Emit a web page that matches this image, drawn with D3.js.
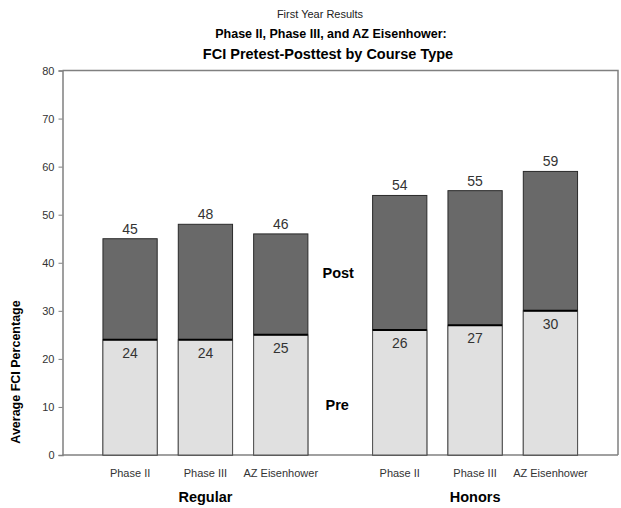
<!DOCTYPE html>
<html>
<head>
<meta charset="utf-8">
<script src="https://cdn.jsdelivr.net/npm/d3@7"></script>
<style>
  html, body { margin: 0; padding: 0; background: #fff; }
  svg { display: block; font-family: "Liberation Sans", Arial, sans-serif; }
</style>
</head>
<body>
<svg id="chart" width="621" height="508"></svg>
<script>
// Course groups and the three program types within each group
const groups = ["Regular", "Honors"];
const courseTypes = ["Phase II", "Phase III", "AZ Eisenhower"];

// Average FCI percentages per course type
const preRegular = [24, 24, 25];
const postRegular = [45, 48, 46];
const preHonors = [26, 27, 30];
const postHonors = [54, 55, 59];

const yTicks = [0, 10, 20, 30, 40, 50, 60, 70, 80];

const rows = [];
groups.forEach((g, gi) => {
  const pre = gi === 0 ? preRegular : preHonors;
  const post = gi === 0 ? postRegular : postHonors;
  courseTypes.forEach((t, i) => rows.push({ group: g, type: t, pre: pre[i], post: post[i] }));
});

const svg = d3.select("#chart");
const plot = { left: 62.5, right: 618, top: 70.5, bottom: 455 };

const y = d3.scaleLinear().domain([0, 80]).range([plot.bottom, plot.top]);
const xGroup = d3.scaleBand().domain(groups).range([plot.left, plot.right])
  .paddingInner(0.24).paddingOuter(0.15);
const xType = d3.scaleBand().domain(courseTypes).range([0, xGroup.bandwidth()])
  .paddingInner(0.28).paddingOuter(0);
const barX = d => xGroup(d.group) + xType(d.type);

// Titles
svg.append("text").attr("x", 320).attr("y", 18).attr("text-anchor", "middle")
  .attr("font-size", 11).attr("fill", "#222").text("First Year Results");
svg.append("text").attr("x", 331).attr("y", 38).attr("text-anchor", "middle")
  .attr("font-size", 12.5).attr("font-weight", "bold").attr("fill", "#000")
  .text("Phase II, Phase III, and AZ Eisenhower:");
svg.append("text").attr("x", 328).attr("y", 59).attr("text-anchor", "middle")
  .attr("font-size", 14.5).attr("font-weight", "bold").attr("fill", "#000")
  .text("FCI Pretest-Posttest by Course Type");

// Plot frame (top and right)
svg.append("path")
  .attr("d", `M${plot.left},${plot.top}H${plot.right}V${plot.bottom}`)
  .attr("fill", "none").attr("stroke", "#808080").attr("stroke-width", 1.5);

// Y axis
const yAxis = svg.append("g").attr("transform", `translate(${plot.left},0)`)
  .call(d3.axisLeft(y).tickValues(yTicks).tickSize(4).tickPadding(4).tickFormat(d3.format("d")));
yAxis.select(".domain").attr("stroke", "#808080").attr("stroke-width", 1.5);
yAxis.selectAll(".tick line").attr("stroke", "#808080");
yAxis.selectAll(".tick text").attr("font-size", 11).attr("fill", "#333")
  .attr("font-family", "Liberation Sans, Arial, sans-serif");

// Bottom baseline
svg.append("line").attr("x1", plot.left).attr("x2", plot.right)
  .attr("y1", plot.bottom).attr("y2", plot.bottom)
  .attr("stroke", "#808080").attr("stroke-width", 1.5);

// Y axis title
svg.append("text")
  .attr("transform", `translate(20,372) rotate(-90)`)
  .attr("text-anchor", "middle").attr("font-size", 12.5).attr("font-weight", "bold")
  .attr("fill", "#000").text("Average FCI Percentage");

const bars = svg.append("g").selectAll("g").data(rows).join("g");

// Posttest bars (full height)
bars.append("rect")
  .attr("x", d => barX(d)).attr("width", xType.bandwidth())
  .attr("y", d => y(d.post)).attr("height", d => y(0) - y(d.post))
  .attr("fill", "#696969").attr("stroke", "#2a2a2a").attr("stroke-width", 1);

// Pretest bars overlaid from zero
bars.append("rect")
  .attr("x", d => barX(d)).attr("width", xType.bandwidth())
  .attr("y", d => y(d.pre)).attr("height", d => y(0) - y(d.pre))
  .attr("fill", "#e0e0e0").attr("stroke", "#555").attr("stroke-width", 1);

// Pretest boundary line
bars.append("line")
  .attr("x1", d => barX(d)).attr("x2", d => barX(d) + xType.bandwidth())
  .attr("y1", d => y(d.pre)).attr("y2", d => y(d.pre))
  .attr("stroke", "#000").attr("stroke-width", 2);

// Value labels
bars.append("text")
  .attr("x", d => barX(d) + xType.bandwidth() / 2).attr("y", d => y(d.post) - 5)
  .attr("text-anchor", "middle").attr("font-size", 14).attr("fill", "#333")
  .text(d => d.post);
bars.append("text")
  .attr("x", d => barX(d) + xType.bandwidth() / 2).attr("y", d => y(d.pre) + 18)
  .attr("text-anchor", "middle").attr("font-size", 14).attr("fill", "#333")
  .text(d => d.pre);

// Category labels
bars.append("text")
  .attr("x", d => barX(d) + xType.bandwidth() / 2).attr("y", 477)
  .attr("text-anchor", "middle").attr("font-size", 11).attr("fill", "#333")
  .text(d => d.type);

// Group labels
svg.append("g").selectAll("text").data(groups).join("text")
  .attr("x", g => xGroup(g) + xGroup.bandwidth() / 2).attr("y", 502)
  .attr("text-anchor", "middle").attr("font-size", 14.5).attr("font-weight", "bold")
  .attr("fill", "#000").text(g => g);

// Series labels between the groups
const midX = (xGroup("Regular") + xGroup.bandwidth() + xGroup("Honors")) / 2;
svg.append("text").attr("x", midX - 2).attr("y", 278).attr("text-anchor", "middle")
  .attr("font-size", 14.5).attr("font-weight", "bold").attr("fill", "#000").text("Post");
svg.append("text").attr("x", midX - 3).attr("y", 410).attr("text-anchor", "middle")
  .attr("font-size", 14.5).attr("font-weight", "bold").attr("fill", "#000").text("Pre");
</script>
</body>
</html>
